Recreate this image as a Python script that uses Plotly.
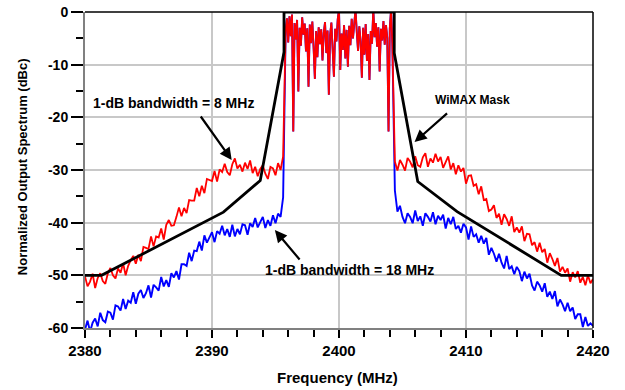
import numpy as np
import plotly.graph_objects as go

# ---------------- data ----------------
freq_left = np.round(np.arange(2380.0, 2395.61, 0.2), 2)     # 79 points
freq_center = np.round(np.arange(2395.8, 2404.21, 0.1), 2)   # 85 points
freq_right = np.round(np.arange(2404.4, 2420.01, 0.2), 2)    # 79 points

red_left = [-50.2, -52.1, -51.2, -49.7, -52.4, -50.5, -49.6, -51.1, -51.6, -49.6,
            -48.6, -50.0, -50.6, -48.7, -49.5, -47.7, -50.0, -48.2, -47.1, -46.3,
            -47.8, -46.1, -47.3, -44.6, -44.8, -45.0, -42.6, -44.5, -42.6, -42.8,
            -41.1, -43.2, -40.4, -39.5, -40.6, -40.5, -38.9, -37.1, -38.8, -37.2,
            -38.2, -35.7, -35.8, -35.8, -33.4, -35.0, -33.0, -34.4, -31.7, -31.9,
            -32.1, -30.2, -32.2, -29.9, -30.4, -28.8, -30.4, -31.0, -28.9, -27.8,
            -29.7, -29.0, -30.3, -28.6, -29.8, -28.2, -30.6, -29.4, -31.2, -29.8,
            -29.1, -30.7, -31.7, -29.4, -29.7, -31.0, -28.7, -30.0, -27.4]

blue_left = [-60.3, -58.6, -60.7, -59.0, -58.2, -59.7, -57.1, -58.5, -58.9, -56.9,
             -57.1, -58.4, -55.7, -55.9, -56.7, -54.5, -56.4, -54.8, -55.2, -53.2,
             -55.4, -53.5, -52.8, -54.3, -53.4, -51.9, -54.2, -51.8, -52.3, -52.9,
             -50.3, -52.1, -50.9, -52.2, -49.6, -50.4, -49.2, -50.8, -47.9, -47.9,
             -48.2, -45.7, -47.3, -45.3, -45.4, -43.6, -45.3, -42.4, -43.8, -42.8,
             -41.8, -43.7, -41.6, -42.1, -40.6, -42.4, -41.2, -42.7, -40.4, -42.6,
             -41.2, -42.2, -40.3, -40.5, -42.3, -40.1, -40.8, -39.1, -40.9, -39.9,
             -38.9, -41.0, -39.5, -40.6, -38.6, -40.1, -38.3, -38.9, -35.2]

center = [-3.5, -1.2, -5.8, -0.8, -4.6, -0.5, -22.7, -2.1, -5.2, -1.5,
          -15.1, -3.0, -6.4, -1.0, -4.3, -2.2, -7.5, -3.1, -14.2, -2.4,
          -5.9, -1.8, -6.8, -12.7, -3.6, -8.6, -2.9, -6.1, -3.3, -9.2,
          -4.0, -1.9, -7.8, -3.5, -15.7, -4.4, -2.0, -6.9, -12.3, -3.2,
          -5.6, -1.4, 0.5, -11.0, -4.1, -7.2, -2.5, -8.8, -3.4, -10.4,
          -2.6, -6.3, -1.3, -5.0, -2.2, 0.5, -3.8, -7.4, -2.7, -5.5,
          -12.5, -3.0, -8.1, -2.3, -9.3, -4.2, -12.9, -3.6, -6.0, 0.5,
          -4.8, -2.1, -6.6, -2.9, -11.3, -3.2, -5.4, -1.7, -6.2, -2.5,
          -4.9, -22.7, -3.1, 0.5, -6.0]

red_right = [-28.4, -30.1, -28.1, -29.0, -30.1, -27.7, -28.4, -29.5, -27.4, -29.1,
             -29.4, -27.6, -26.8, -29.4, -27.8, -28.6, -26.9, -28.4, -27.5, -29.6,
             -28.4, -27.4, -29.9, -28.7, -30.8, -29.1, -30.3, -29.6, -32.6, -31.1,
             -31.0, -33.0, -32.7, -34.6, -33.1, -35.7, -35.5, -37.8, -37.5, -36.7,
             -39.1, -38.3, -40.4, -38.4, -39.3, -40.6, -38.8, -41.8, -40.9, -41.9,
             -40.7, -43.5, -42.1, -42.2, -44.3, -43.7, -45.5, -43.8, -45.6, -45.0,
             -47.6, -45.8, -46.9, -48.2, -46.7, -49.3, -48.4, -49.5, -48.7, -51.2,
             -49.4, -50.4, -49.2, -51.4, -50.3, -51.9, -50.0, -51.5, -50.7]

blue_right = [-33.9, -37.9, -36.8, -38.9, -40.1, -38.2, -38.9, -40.1, -37.7, -39.7,
              -38.8, -40.6, -38.2, -38.9, -39.8, -38.0, -40.3, -38.7, -39.5, -38.5,
              -41.1, -39.1, -40.3, -38.9, -41.2, -40.6, -41.9, -40.2, -40.9, -43.2,
              -40.7, -42.7, -42.2, -43.8, -42.5, -44.0, -42.9, -46.1, -44.8, -45.9,
              -47.4, -45.9, -47.6, -48.7, -46.3, -48.8, -48.3, -49.8, -48.4, -49.2,
              -51.1, -49.3, -50.6, -49.7, -51.9, -52.9, -51.2, -51.9, -53.1, -51.5,
              -54.1, -53.1, -54.5, -53.0, -55.9, -54.6, -55.5, -56.8, -55.2, -56.8,
              -56.1, -58.3, -57.4, -57.4, -59.8, -57.9, -59.6, -59.1, -59.6]

mask_freq = [2380, 2381.3, 2390.9, 2393.8, 2395.67, 2395.67,
             2404.35, 2404.35, 2406.2, 2409.3, 2417.5, 2420]
mask_db = [-50, -50, -38, -32, -7.6, 0, 0, -7.8, -32.2, -37.9, -50, -50]

x_ticks = [2380, 2390, 2400, 2410, 2420]
y_ticks = [0, -10, -20, -30, -40, -50, -60]

# ---------------- figure ----------------
FONT = "Arial, Liberation Sans, sans-serif"

freq_all = list(freq_left) + list(freq_center) + list(freq_right)
blue_all = blue_left + center + blue_right
red_all = red_left + center + red_right

fig = go.Figure()
fig.add_trace(go.Scatter(x=freq_all, y=blue_all, mode="lines",
                         line=dict(color="#0000ff", width=1.9), showlegend=False))
fig.add_trace(go.Scatter(x=freq_all, y=red_all, mode="lines",
                         line=dict(color="#ff0000", width=1.8), showlegend=False))
fig.add_trace(go.Scatter(x=mask_freq, y=mask_db, mode="lines",
                         line=dict(color="#000000", width=2.8), showlegend=False))

fig.update_layout(
    width=625, height=390,
    margin=dict(l=85, r=32, t=12, b=62, autoexpand=False),
    paper_bgcolor="white", plot_bgcolor="white",
    font=dict(family=FONT, color="black"),
    xaxis=dict(range=[2380, 2420], tickvals=x_ticks, ticktext=[str(v) for v in x_ticks],
               automargin=False,
               showgrid=True, gridcolor="#c8c8c8", gridwidth=1.5,
               showline=True, linecolor="#808080", linewidth=2,
               ticks="outside", ticklen=8, tickwidth=1.5, tickcolor="black",
               tickfont=dict(size=15, family=FONT, weight="bold"),
               minor=dict(dtick=2, ticks="outside", ticklen=7, tickwidth=1.5,
                          tickcolor="black", showgrid=False),
               zeroline=False, fixedrange=True),
    yaxis=dict(range=[-60, 0], tickvals=y_ticks, ticktext=[str(v) for v in y_ticks],
               automargin=False,
               showgrid=True, gridcolor="#c8c8c8", gridwidth=1.5,
               showline=True, linecolor="#808080", linewidth=2,
               ticks="outside", ticklen=12, tickwidth=1.5, tickcolor="black",
               tickfont=dict(size=14, family=FONT, weight="bold"),
               minor=dict(dtick=5, ticks="outside", ticklen=7, tickwidth=1.5,
                          tickcolor="black", showgrid=False),
               zeroline=False, fixedrange=True),
)

# top and right border
fig.add_shape(type="line", xref="paper", yref="paper", x0=0, x1=1, y0=1, y1=1,
              line=dict(color="black", width=1.5))
fig.add_shape(type="line", xref="paper", yref="paper", x0=1, x1=1, y0=0, y1=1,
              line=dict(color="black", width=1.5))

# axis titles
fig.add_annotation(text="<b>Frequency (MHz)</b>", xref="paper", yref="paper",
                   x=0.498, y=-0.158, showarrow=False, xanchor="center", yanchor="middle",
                   font=dict(size=15, family=FONT, color="black"))
fig.add_annotation(text="<b>Normalized Output Spectrum (dBc)</b>", xref="paper", yref="paper",
                   x=-0.124, y=0.509, textangle=-90, showarrow=False,
                   xanchor="center", yanchor="middle",
                   font=dict(size=13, family=FONT, color="black"))

# text labels
fig.add_annotation(text="<b>1-dB bandwidth = 8 MHz</b>", x=2387.0, y=-17.3,
                   showarrow=False, font=dict(size=14, family=FONT, color="black"))
fig.add_annotation(text="<b>1-dB bandwidth = 18 MHz</b>", x=2400.8, y=-49.0,
                   showarrow=False, font=dict(size=14, family=FONT, color="black"))
fig.add_annotation(text="<b>WiMAX Mask</b>", x=2410.5, y=-16.7,
                   showarrow=False, font=dict(size=12, family=FONT, color="black"))

# arrows
for hx, hy, ax, ay in [(2391.55, -28.1, -32, -45),
                       (2405.95, -24.7, 34, -30),
                       (2394.95, -41.4, 26, 31)]:
    fig.add_annotation(x=hx, y=hy, ax=ax, ay=ay, text="", showarrow=True,
                       arrowhead=2, arrowsize=1.1, arrowwidth=2.2, arrowcolor="black")

fig.write_html("out.html")
